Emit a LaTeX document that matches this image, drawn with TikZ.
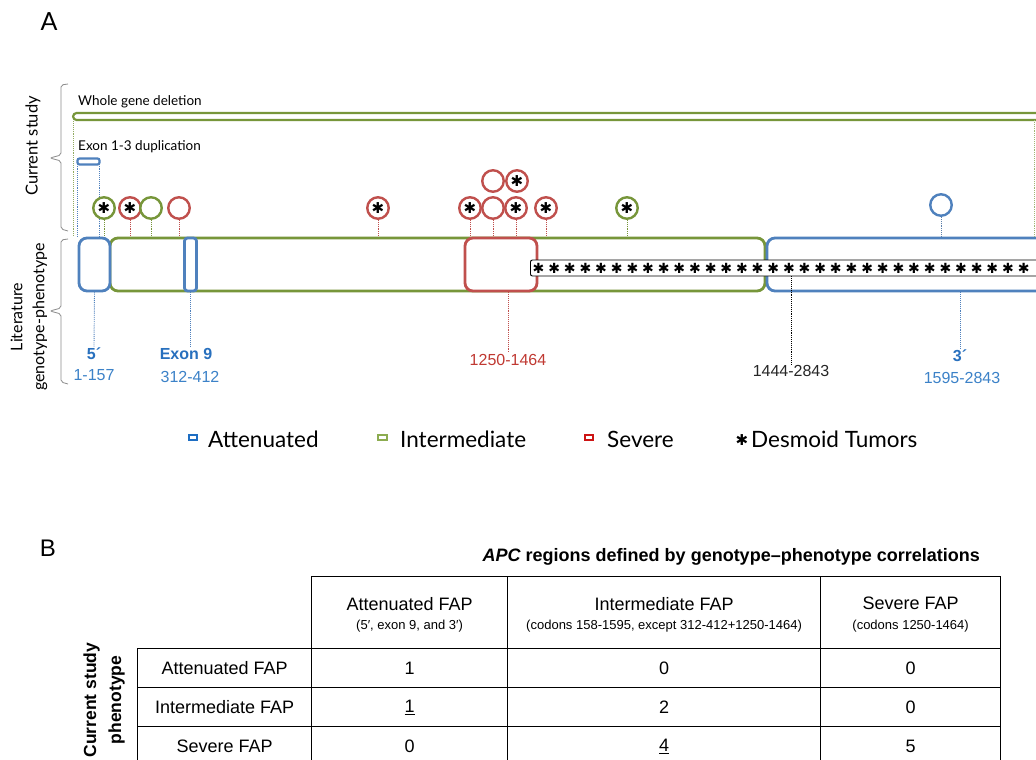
\documentclass[tikz,border=0pt]{standalone}
\usepackage{fontspec}
\setmainfont{Liberation Sans}
\newfontfamily\gill{Lato}
\newfontfamily\djv{DejaVu Sans}
\usetikzlibrary{calc}
\definecolor{bA}{RGB}{79,129,189}
\definecolor{gA}{RGB}{119,150,58}
\definecolor{rA}{RGB}{192,80,77}
\definecolor{bL}{RGB}{40,112,190}
\definecolor{bN}{RGB}{60,130,200}
\definecolor{rL}{RGB}{192,57,50}
\definecolor{icB}{RGB}{30,110,195}
\definecolor{icG}{RGB}{140,172,80}
\definecolor{icR}{RGB}{205,20,20}
\definecolor{brk}{RGB}{140,140,140}
\begin{document}
\begin{tikzpicture}[x=1pt,y=-1pt,
  gbox/.style={draw,line width=2.8pt,fill=white,rounded corners=8pt,inner sep=0pt,minimum height=53pt},
  circ/.style={circle,draw,line width=2.4pt,fill=white,minimum size=21.5pt,inner sep=0pt,font=\djv\fontsize{15}{15}\selectfont},
  dotl/.style={densely dotted,line width=0.9pt},
  gfont/.style={font=\gill\fontsize{13.5}{15}\selectfont},
  lbl/.style={font=\fontsize{16}{18}\selectfont,inner sep=1pt},
  ast/.style={font=\djv\fontsize{14}{14}\selectfont,inner sep=0pt},
  legtxt/.style={font=\gill\fontsize{22.5}{25}\selectfont,anchor=west,inner sep=0pt},
  icon/.style={draw,line width=2.3pt,fill=white,minimum width=8.5pt,minimum height=5pt,inner sep=0pt},
  cell/.style={draw,line width=1.2pt,inner sep=0pt,anchor=north west},
  big/.style={font=\fontsize{18}{20}\selectfont},
  small/.style={font=\fontsize{13}{15}\selectfont}
]
\useasboundingbox (0,0) rectangle (1036,760);
\fill[white] (0,0) rectangle (1036,760);

% ---------- Panel A ----------
\node[font=\gill\fontsize{25}{27}\selectfont] (A) at (49,22) {A};

% brackets
\draw[brk,line width=0.8pt,rounded corners=2pt] (68,84) -- (61,85) -- (61,155) -- (50,158) -- (61,161) -- (61,229) -- (68,231);
\draw[brk,line width=0.8pt,rounded corners=2pt] (68,239) -- (61,240) -- (61,308) -- (50,311) -- (61,314) -- (61,382) -- (68,384);
\node[rotate=90,font=\gill\fontsize{16.5}{18}\selectfont] (cs) at (33,146) {Current study};
\node[rotate=90,align=center,font=\gill\fontsize{16}{22}\selectfont] (lit) at (29,317) {Literature\\genotype-phenotype};

% whole gene deletion
\node[gfont,anchor=west,inner sep=0pt] (wgdt) at (78,102) {Whole gene deletion};
\node[draw=gA,line width=2.2pt,rounded corners=3.5pt,minimum width=990pt,minimum height=7pt,inner sep=0pt,anchor=west] (wgd) at (72,116.5) {};

% exon 1-3 duplication
\node[gfont,anchor=west,inner sep=0pt] (dupt) at (78,147) {Exon 1-3 duplication};
\node[draw=bA,line width=2.2pt,rounded corners=2pt,minimum width=22pt,minimum height=6pt,inner sep=0pt] (dup) at (88.5,161.5) {};

% gene bar
\node[gbox,draw=gA,minimum width=655pt] (inter) at (437.5,264.5) {};
\node[gbox,draw=bA,minimum width=31pt] (five) at (94.5,264.5) {};
\node[gbox,draw=bA,minimum width=12pt,rounded corners=3pt] (ex9) at (190.5,264.5) {};
\node[gbox,draw=rA,minimum width=72pt] (sev) at (501,264.5) {};
\node[gbox,draw=bA,minimum width=290pt] (three) at (912,264.5) {};

% desmoid bar
\node[draw=black,line width=0.9pt,fill=white,rounded corners=2pt,minimum width=540pt,minimum height=16pt,inner sep=0pt,anchor=west] (desm) at (530,268) {};
\foreach \i in {0,...,31} \node[ast] at (538.5+15.65*\i,268.5) {✱};

% vertical dotted lines from deletion / duplication
\draw[dotl,gA!80] (wgd.south west) ++(1.5,0) coordinate (wg1) -- (wg1 |- five.north);
\draw[dotl,gA!70] (1034,120) coordinate (wg2) -- (wg2 |- three.north);
\draw[dotl,bA] ($(dup.south west)+(1,0)$) coordinate (d1) -- (d1 |- five.north);
\draw[dotl,bA] ($(dup.south east)+(-1,0)$) coordinate (d2) -- (d2 |- five.north);

% circles
\node[circ,draw=gA] (c1) at (104,208) {✱};
\node[circ,draw=rA] (c2) at (130,208) {✱};
\node[circ,draw=gA] (c3) at (151,208) {};
\node[circ,draw=rA] (c4) at (179,208) {};
\node[circ,draw=rA] (c5) at (378,208) {✱};
\node[circ,draw=rA] (c6) at (470,208) {✱};
\node[circ,draw=rA] (c7) at (493,208) {};
\node[circ,draw=rA] (c8) at (516,208) {✱};
\node[circ,draw=rA] (c9) at (493,181) {};
\node[circ,draw=rA] (c10) at (517,181) {✱};
\node[circ,draw=rA] (c11) at (546,208) {✱};
\node[circ,draw=gA] (c12) at (627,208) {✱};
\node[circ,draw=bA] (c13) at (941,205) {};

\foreach \c/\col in {c1/gA,c2/rA,c3/gA,c4/rA,c5/rA,c6/rA,c7/rA,c8/rA,c11/rA,c12/gA}
  \draw[dotl,\col] (\c.south) -- (\c.south |- inter.north);
\draw[dotl,bA!70!gray] (c13.south) -- (c13.south |- three.north);

% labels below
\node[lbl,text=bL,font=\bfseries\fontsize{16}{18}\selectfont] (l5) at (94,354) {5´};
\node[lbl,text=bN] (l5n) at (94,375) {1-157};
\node[lbl,text=bL,font=\bfseries\fontsize{16}{18}\selectfont] (l9) at (186,354) {Exon 9};
\node[lbl,text=bN] (l9n) at (190,377) {312-412};
\node[lbl,text=rL] (ls) at (508,360) {1250-1464};
\node[lbl,text=black!85] (ld) at (791,371) {1444-2843};
\node[lbl,text=bL,font=\bfseries\fontsize{16}{18}\selectfont] (l3) at (960,356) {3´};
\node[lbl,text=bN] (l3n) at (962,378) {1595-2843};

\draw[dotl,bA] (five.south) -- (l5.north);
\draw[dotl,bA] (ex9.south) -- (ex9.south |- l9.north);
\draw[dotl,rA] (ls.north |- sev.south) -- (ls.north);
\draw[dotl,black] (ld.north |- desm.south) -- (ld.north);
\draw[dotl,bA] (l3.north |- three.south) -- (l3.north);

% legend
\node[icon,draw=icB] (i1) at (193,437.5) {};
\node[legtxt] (t1) at (208,439) {Attenuated};
\node[icon,draw=icG] (i2) at (382.5,437.5) {};
\node[legtxt] (t2) at (400,439) {Intermediate};
\node[icon,draw=icR] (i3) at (589,437.5) {};
\node[legtxt] (t3) at (607,439) {Severe};
\node[font=\djv\fontsize{15}{15}\selectfont,inner sep=0pt] (i4) at (742,440) {✱};
\node[legtxt] (t4) at (751,439) {Desmoid Tumors};

% ---------- Panel B ----------
\node[font=\fontsize{24}{26}\selectfont] (B) at (48,548) {B};
\node[font=\bfseries\fontsize{18}{20}\selectfont,anchor=east,inner sep=0pt] (title) at (980,557) {\textit{APC} regions defined by genotype–phenotype correlations};

% header cells
\node[cell,minimum width=196pt,minimum height=72pt] (h1) at (311,576) {};
\node[cell,minimum width=313pt,minimum height=72pt] (h2) at (507,576) {};
\node[cell,minimum width=180pt,minimum height=72pt] (h3) at (820,576) {};
\node[big] at ($(h1.center)+(0,-9)$) {Attenuated FAP};
\node[small] at ($(h1.center)+(0,14)$) {(5′, exon 9, and 3′)};
\node[big] at ($(h2.center)+(0,-9)$) {Intermediate FAP};
\node[small] at ($(h2.center)+(0,14)$) {(codons 158-1595, except 312-412+1250-1464)};
\node[big] at ($(h3.center)+(0,-9)$) {Severe FAP};
\node[small] at ($(h3.center)+(0,14)$) {(codons 1250-1464)};

% body rows
\foreach \r/\y/\lab/\a/\b/\cc in {1/648/Attenuated FAP/1/0/0, 2/687/Intermediate FAP/\underline{1}/2/0, 3/726/Severe FAP/0/\underline{4}/5}{
  \node[cell,minimum width=174pt,minimum height=39pt] (r\r c0) at (137,\y) {};
  \node[cell,minimum width=196pt,minimum height=39pt] (r\r c1) at (311,\y) {};
  \node[cell,minimum width=313pt,minimum height=39pt] (r\r c2) at (507,\y) {};
  \node[cell,minimum width=180pt,minimum height=39pt] (r\r c3) at (820,\y) {};
  \node[big] at (r\r c0.center) {\lab};
  \node[big] at (r\r c1.center) {\a};
  \node[big] at (r\r c2.center) {\b};
  \node[big] at (r\r c3.center) {\cc};
}
\node[rotate=90,align=center,font=\bfseries\fontsize{17.5}{25}\selectfont] (cs2) at (104,700) {Current study\\phenotype};
\end{tikzpicture}
\end{document}
